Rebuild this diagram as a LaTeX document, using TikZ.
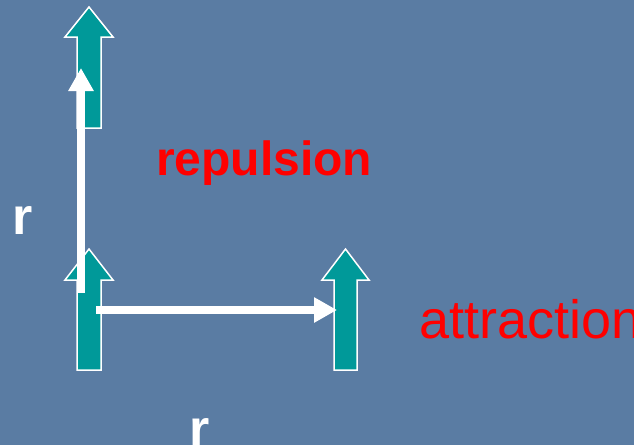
\documentclass[tikz,border=0pt]{standalone}
\usepackage{fontspec}
\setmainfont{Liberation Sans}
\usetikzlibrary{arrows.meta}
\definecolor{bgblue}{RGB}{90,124,163}
\definecolor{teal}{RGB}{0,153,153}
\definecolor{txtred}{RGB}{255,0,0}
\tikzset{
  spin/.style={fill=teal,draw=white,line width=1.5pt,line join=miter},
  vec/.style={draw=white,line width=8pt,-{Triangle[width=24pt,length=23pt]}},
  lab/.style={inner sep=0pt,anchor=base west,font=\fontsize{50}{50}\selectfont},
}
\begin{document}
\begin{tikzpicture}[x=1pt,y=-1pt]
\fill[bgblue] (0,0) rectangle (634,445);
\useasboundingbox (0,0) rectangle (634,445);
% spins
\draw[spin] (77,128) -- (77,37) -- (65,37) -- (89,7) -- (113,37) -- (101,37) -- (101,128) -- cycle;
\draw[spin] (77,370) -- (77,280) -- (65,280) -- (89,249) -- (113,280) -- (101,280) -- (101,370) -- cycle;
\draw[spin] (334,370) -- (334,280) -- (322,280) -- (345.5,249) -- (369,280) -- (357,280) -- (357,370) -- cycle;
% vectors
\coordinate (v0) at (81,293);
\coordinate (v1) at (81,68);
\coordinate (h0) at (96,310);
\coordinate (h1) at (337,310);
\draw[vec] (v0) -- (v1);
\draw[vec] (h0) -- (h1);
% labels
\node[lab,text=txtred,font=\fontsize{48}{48}\selectfont\bfseries] (rep) at (156,175) {repulsion};
\node[lab,text=txtred,font=\fontsize{54}{54}\selectfont] (att) at (419,338) {attraction};
\node[lab,text=white,font=\fontsize{52}{52}\selectfont\bfseries] (r1) at (12,234) {r};
\node[lab,text=white,font=\fontsize{52}{52}\selectfont\bfseries] (r2) at (189,446) {r};
\end{tikzpicture}
\end{document}
